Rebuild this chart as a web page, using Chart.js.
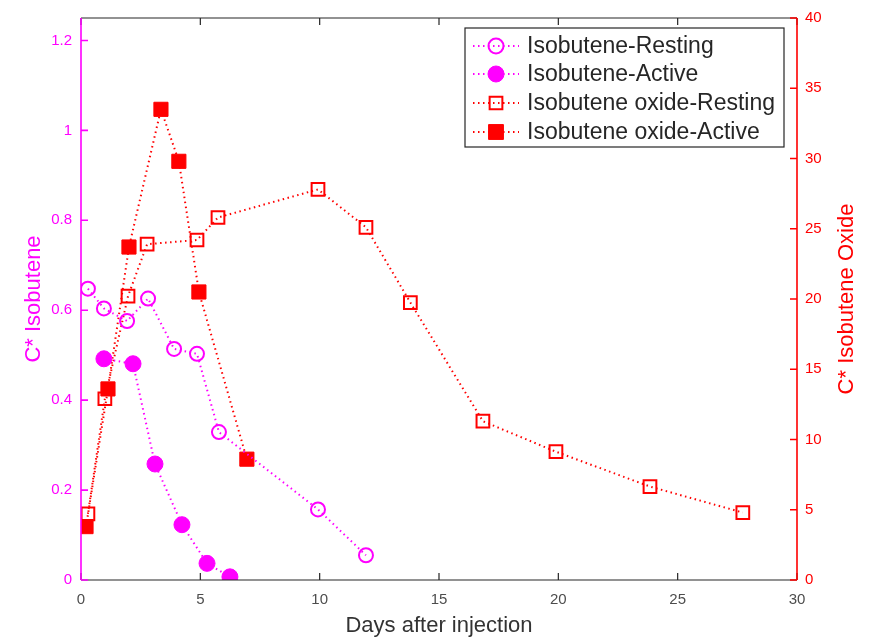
<!DOCTYPE html>
<html>
<head>
<meta charset="utf-8">
<script src="https://cdn.jsdelivr.net/npm/chart.js@4.4.0/dist/chart.umd.min.js"></script>
<style>
  body { margin: 0; background: #fff; }
  #wrap { width: 869px; height: 638px; }
</style>
</head>
<body>
<div id="wrap"><canvas id="chart" width="869" height="638"></canvas></div>
<script>
// Days after injection / concentrations
const restDays = [0.29, 0.96, 1.93, 2.81, 3.9, 4.86, 5.78, 9.93, 11.94];
const restIso = [0.648, 0.604, 0.576, 0.626, 0.514, 0.503, 0.329, 0.157, 0.055];

const actDays = [0.96, 2.18, 3.1, 4.23, 5.28, 6.24];
const actIso = [0.492, 0.481, 0.258, 0.123, 0.037, 0.007];

const restOxDays = [0.29, 1.0, 1.97, 2.77, 4.86, 5.74, 9.93, 11.94, 13.8, 16.84, 19.9, 23.84, 27.73];
const restOx = [4.7, 12.9, 20.2, 23.9, 24.2, 25.8, 27.8, 25.1, 19.75, 11.3, 9.13, 6.65, 4.8];

const actOxDays = [0.21, 1.13, 2.01, 3.35, 4.1, 4.94, 6.95];
const actOx = [3.8, 13.6, 23.7, 33.5, 29.8, 20.5, 8.6];

const xTicks = [0, 5, 10, 15, 20, 25, 30];
const leftTicks = [0, 0.2, 0.4, 0.6, 0.8, 1, 1.2];
const rightTicks = [0, 5, 10, 15, 20, 25, 30, 35, 40];

const MAGENTA = '#ff00ff';
const RED = '#ff0000';
const DARK = '#262626';
const FONT = '"Liberation Sans", Arial, sans-serif';

const pts = (xs, ys) => xs.map((x, i) => ({ x: x, y: ys[i] }));

const datasets = [
  {
    label: 'Isobutene-Resting',
    data: pts(restDays, restIso),
    yAxisID: 'y',
    borderColor: MAGENTA,
    backgroundColor: 'rgba(0,0,0,0)',
    pointStyle: 'circle',
    pointRadius: 7,
    pointBorderWidth: 2,
    legendRadius: 7.5
  },
  {
    label: 'Isobutene-Active',
    data: pts(actDays, actIso),
    yAxisID: 'y',
    borderColor: MAGENTA,
    backgroundColor: MAGENTA,
    pointStyle: 'circle',
    pointRadius: 8,
    pointBorderWidth: 1,
    legendRadius: 8
  },
  {
    label: 'Isobutene oxide-Resting',
    data: pts(restOxDays, restOx),
    yAxisID: 'y1',
    borderColor: RED,
    backgroundColor: 'rgba(0,0,0,0)',
    pointStyle: 'rect',
    pointRadius: 9,
    pointBorderWidth: 2,
    legendRadius: 9
  },
  {
    label: 'Isobutene oxide-Active',
    data: pts(actOxDays, actOx),
    yAxisID: 'y1',
    borderColor: RED,
    backgroundColor: RED,
    pointStyle: 'rect',
    pointRadius: 10,
    pointBorderWidth: 1,
    legendRadius: 10.5
  }
];
datasets.forEach(d => {
  d.showLine = true;
  d.borderWidth = 2;
  d.borderDash = [1.5, 3.5];
  d.pointBackgroundColor = d.backgroundColor;
  d.pointBorderColor = d.borderColor;
});

// axis lines, inward ticks, axis titles and the boxed legend
const decorations = {
  id: 'decorations',
  afterDatasetsDraw(chart) {
    const { ctx, chartArea: a, scales } = chart;
    const tl = 7;
    ctx.save();
    ctx.lineWidth = 1.2;

    // top / bottom
    ctx.strokeStyle = DARK;
    ctx.beginPath();
    ctx.moveTo(a.left, a.bottom); ctx.lineTo(a.right, a.bottom);
    ctx.moveTo(a.left, a.top); ctx.lineTo(a.right, a.top);
    xTicks.forEach(v => {
      const px = scales.x.getPixelForValue(v);
      ctx.moveTo(px, a.bottom); ctx.lineTo(px, a.bottom - tl);
      ctx.moveTo(px, a.top); ctx.lineTo(px, a.top + tl);
    });
    ctx.stroke();

    // left
    ctx.strokeStyle = MAGENTA;
    ctx.lineWidth = 1.6;
    ctx.beginPath();
    ctx.moveTo(a.left, a.top); ctx.lineTo(a.left, a.bottom);
    leftTicks.forEach(v => {
      const py = scales.y.getPixelForValue(v);
      ctx.moveTo(a.left, py); ctx.lineTo(a.left + tl, py);
    });
    ctx.stroke();

    // right
    ctx.strokeStyle = RED;
    ctx.beginPath();
    ctx.moveTo(a.right, a.top); ctx.lineTo(a.right, a.bottom);
    rightTicks.forEach(v => {
      const py = scales.y1.getPixelForValue(v);
      ctx.moveTo(a.right, py); ctx.lineTo(a.right - tl, py);
    });
    ctx.stroke();

    // titles
    ctx.font = '22px ' + FONT;
    ctx.textAlign = 'center';
    ctx.textBaseline = 'middle';
    ctx.fillStyle = '#333333';
    ctx.fillText('Days after injection', (a.left + a.right) / 2, 626);

    const midY = (a.top + a.bottom) / 2;
    ctx.save();
    ctx.translate(34, midY);
    ctx.rotate(-Math.PI / 2);
    ctx.fillStyle = MAGENTA;
    ctx.fillText('C* Isobutene', 0, 0);
    ctx.restore();

    ctx.save();
    ctx.translate(847, midY);
    ctx.rotate(-Math.PI / 2);
    ctx.fillStyle = RED;
    ctx.fillText('C* Isobutene Oxide', 0, 0);
    ctx.restore();

    // legend
    const bx = 465, by = 28, bw = 319, bh = 119;
    ctx.fillStyle = '#ffffff';
    ctx.fillRect(bx, by, bw, bh);
    ctx.strokeStyle = DARK;
    ctx.lineWidth = 1.2;
    ctx.strokeRect(bx, by, bw, bh);
    const rows = [46, 74, 103, 132];
    ctx.textAlign = 'left';
    chart.data.datasets.forEach((d, i) => {
      const y = rows[i];
      ctx.save();
      ctx.strokeStyle = d.borderColor;
      ctx.lineWidth = d.borderWidth;
      ctx.setLineDash(d.borderDash);
      ctx.beginPath();
      ctx.moveTo(473, y); ctx.lineTo(519, y);
      ctx.stroke();
      ctx.restore();
      ctx.save();
      ctx.strokeStyle = d.borderColor;
      ctx.fillStyle = d.backgroundColor;
      ctx.lineWidth = d.pointBorderWidth;
      Chart.helpers.drawPoint(ctx, {
        pointStyle: d.pointStyle,
        radius: d.legendRadius,
        rotation: 0,
        borderWidth: d.pointBorderWidth
      }, 496, y);
      ctx.restore();
      ctx.fillStyle = DARK;
      ctx.font = '23px ' + FONT;
      ctx.fillText(d.label, 527, y + 1);
    });
    ctx.restore();
  }
};

new Chart(document.getElementById('chart'), {
  type: 'scatter',
  data: { datasets: datasets },
  options: {
    responsive: false,
    animation: false,
    layout: { padding: { top: 15, left: 0, right: 0, bottom: 0 } },
    plugins: {
      legend: { display: false },
      tooltip: { enabled: false }
    },
    scales: {
      x: {
        type: 'linear',
        min: 0, max: 30,
        grid: { display: false, drawTicks: false },
        border: { display: false },
        ticks: {
          stepSize: 5,
          color: '#4d4d4d',
          font: { family: FONT, size: 15 },
          padding: 11,
          maxRotation: 0
        },
        afterFit: s => { s.height = 58; }
      },
      y: {
        type: 'linear',
        position: 'left',
        min: 0, max: 1.25,
        grid: { display: false, drawTicks: false },
        border: { display: false },
        ticks: {
          stepSize: 0.2,
          includeBounds: false,
          color: MAGENTA,
          font: { family: FONT, size: 15 },
          padding: 9,
          callback: v => String(Math.round(v * 10) / 10)
        },
        afterFit: s => { s.width = 81; }
      },
      y1: {
        type: 'linear',
        position: 'right',
        min: 0, max: 40,
        grid: { display: false, drawTicks: false },
        border: { display: false },
        ticks: {
          stepSize: 5,
          color: RED,
          font: { family: FONT, size: 15 },
          padding: 8
        },
        afterFit: s => { s.width = 72; }
      }
    }
  },
  plugins: [decorations]
});
</script>
</body>
</html>
